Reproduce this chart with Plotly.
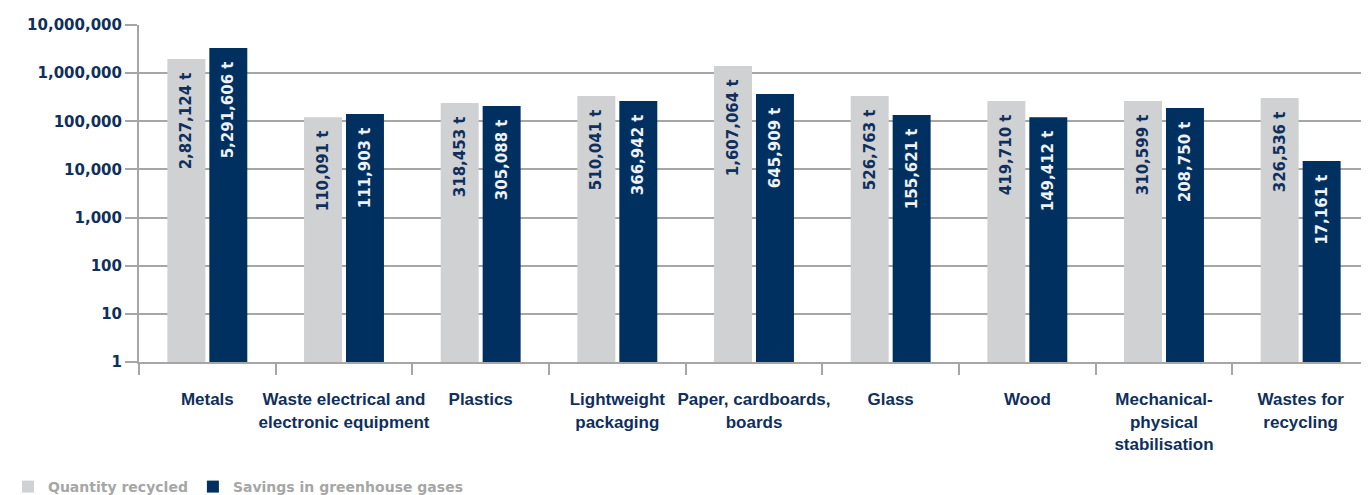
import plotly.graph_objects as go

categories = [
    "Metals",
    "Waste electrical and<br>electronic equipment",
    "Plastics",
    "Lightweight<br>packaging",
    "Paper, cardboards,<br>boards",
    "Glass",
    "Wood",
    "Mechanical-<br>physical<br>stabilisation",
    "Wastes for<br>recycling",
]

# bar heights as drawn in the reference (log scale)
quantity_recycled = [1960000, 122000, 239000, 334000, 1410000, 334000, 263000, 263000, 303000]
ghg_savings = [3320000, 141000, 207000, 263000, 368000, 135000, 122000, 188000, 14900]

# value labels printed in the bars
quantity_labels = ["2,827,124 t", "110,091 t", "318,453 t", "510,041 t", "1,607,064 t",
                   "526,763 t", "419,710 t", "310,599 t", "326,536 t"]
ghg_labels = ["5,291,606 t", "111,903 t", "305,088 t", "366,942 t", "645,909 t",
              "155,621 t", "149,412 t", "208,750 t", "17,161 t"]

y_tickvals = [1, 10, 100, 1000, 10000, 100000, 1000000, 10000000]
y_ticktext = ["1", "10", "100", "1,000", "10,000", "100,000", "1,000,000", "10,000,000"]

NAVY = "#003060"
GRAY_BAR = "#d0d1d3"
TEXT_NAVY = "#0f2f5c"
FONT = "DejaVu Sans"
CAT_FONT = "Liberation Sans"

pad = "\u00a0\u00a0"

fig = go.Figure()
fig.add_trace(go.Bar(
    name="Quantity recycled", x=categories, y=quantity_recycled,
    marker=dict(color=GRAY_BAR, line=dict(width=0)),
    text=[t + pad for t in quantity_labels], textposition="inside",
    insidetextanchor="end", textangle=-90,
    insidetextfont=dict(family=FONT, size=15, color=TEXT_NAVY, weight="bold"),
    hoverinfo="skip",
))
fig.add_trace(go.Bar(
    name="Savings in greenhouse gases", x=categories, y=ghg_savings,
    marker=dict(color=NAVY, line=dict(width=0)),
    text=[t + pad for t in ghg_labels], textposition="inside",
    insidetextanchor="end", textangle=-90,
    insidetextfont=dict(family=FONT, size=15, color="#eef2f7", weight="bold"),
    hoverinfo="skip",
))

fig.update_layout(
    width=1369, height=495,
    margin=dict(l=131, r=8, t=17, b=141),
    paper_bgcolor="white", plot_bgcolor="white",
    barmode="group", bargap=0.386, bargroupgap=0.095,
    uniformtext=dict(minsize=8, mode="show"),
    font=dict(family=FONT, color=TEXT_NAVY),
    showlegend=True,
    legend=dict(
        orientation="h", xref="container", yref="container",
        x=-0.009, y=0.0, xanchor="left", yanchor="bottom",
        font=dict(family=FONT, size=14, color="#a6a6a6", weight="bold"),
        itemwidth=30, traceorder="normal",
    ),
)

fig.update_xaxes(
    showline=True, linecolor="#a6a6a6", linewidth=2,
    ticks="outside", tickson="boundaries", ticklen=11, tickwidth=2, tickcolor="#a6a6a6",
    tickfont=dict(family=CAT_FONT, size=17, color=TEXT_NAVY, weight="bold"),
    ticklabelstandoff=21, tickangle=0,
    showgrid=False, zeroline=False,
)
fig.update_yaxes(
    type="log", range=[0, 7],
    tickvals=y_tickvals, ticktext=y_ticktext,
    showline=True, linecolor="#a6a6a6", linewidth=2,
    ticks="outside", ticklen=12, tickwidth=2, tickcolor="#a6a6a6",
    tickfont=dict(family=FONT, size=15, color=TEXT_NAVY, weight="bold"),
    showgrid=True, gridcolor="#a6a6a6", gridwidth=2,
    zeroline=False,
)

fig.write_html("out.html")
